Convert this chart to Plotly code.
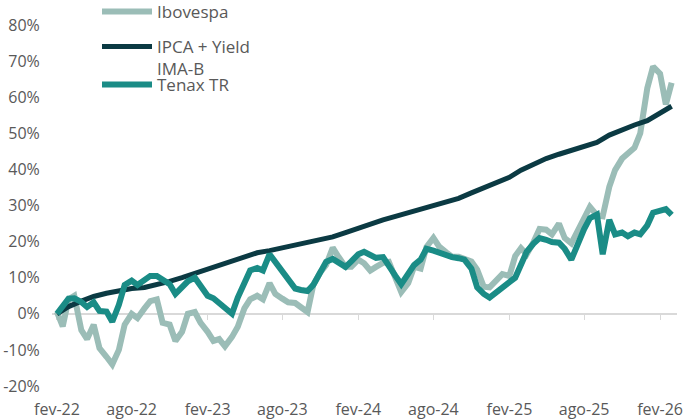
import plotly.graph_objects as go
import pandas as pd

# ---------------- data ----------------
semi_dates = pd.date_range("2022-02-01", periods=99, freq="SMS")
month_dates = pd.date_range("2022-02-01", periods=50, freq="MS")

ibovespa = [0.5, -3.5, 4.0, 5.0, -4.5, -7.0, -3.0, -9.5, -11.9, -14.0,
            -10.0, -3.0, 0.0, -1.2, 1.5, 3.5, 4.0, -2.5, -3.0, -7.5,
            -5.0, 0.0, 0.5, -2.5, -5.0, -7.5, -7.0, -9.0, -6.4, -3.6,
            1.5, 4.0, 5.0, 4.0, 8.5, 5.5, 4.2, 3.2, 3.0, 1.9,
            0.5, 8.0, 11.5, 13.5, 18.3, 15.8, 13.0, 13.0, 15.0, 14.0,
            12.0, 13.0, 14.1, 14.4, 10.0, 6.0, 8.5, 13.0, 12.5, 18.5,
            21.0, 18.6, 17.0, 15.8, 15.8, 15.2, 14.5, 12.2, 7.5, 7.3,
            9.4, 11.0, 10.5, 16.0, 18.2, 16.5, 20.0, 23.5, 23.3, 22.0,
            25.0, 21.0, 19.5, 22.5, 26.0, 29.6, 27.3, 27.0, 35.2, 39.8,
            43.0, 44.5, 46.0, 50.0, 62.5, 68.5, 66.5, 58.0, 64.0]

tenax = [0.0, 2.0, 4.2, 4.3, 3.3, 1.9, 3.2, 0.8, 0.6, -2.2,
         2.5, 8.0, 9.2, 8.0, 9.5, 10.5, 10.5, 9.5, 8.2, 5.5,
         7.5, 9.0, 10.0, 7.8, 5.0, 4.3, 3.0, 1.2, 0.0, 4.5,
         8.5, 12.0, 12.7, 12.0, 16.5, 14.5, 11.5, 9.5, 7.0, 6.6,
         6.3, 8.0, 11.5, 14.4, 15.2, 14.0, 13.0, 14.5, 16.5, 17.2,
         16.2, 15.5, 15.7, 13.0, 10.5, 8.2, 10.8, 13.5, 15.0, 18.0,
         17.5, 16.8, 16.0, 15.7, 15.4, 15.0, 12.5, 7.3, 5.5, 4.5,
         6.0, 7.5, 8.8, 10.0, 13.5, 17.2, 19.5, 21.0, 20.5, 19.9,
         19.7, 18.0, 15.0, 19.0, 23.5, 26.5, 27.5, 16.5, 26.0, 22.0,
         22.5, 21.5, 22.5, 22.0, 24.5, 28.0, 28.5, 29.0, 27.4]

ipca_yield = [0.0, 2.0, 3.5, 4.8, 5.7, 6.5, 7.0, 7.3, 8.0, 9.0,
              10.0, 11.2, 12.5, 13.6, 14.8, 16.0, 16.9, 17.5, 18.2, 18.9,
              19.7, 20.5, 21.3, 22.5, 23.8, 25.0, 26.0, 27.0, 28.0, 29.0,
              30.3, 31.2, 32.0, 33.5, 35.0, 36.3, 37.8, 39.8, 41.5, 43.0,
              44.2, 45.3, 46.3, 47.5, 49.5, 51.0, 52.3, 53.5, 55.5, 57.5]

tick_dates = ["2022-02-01", "2022-08-01", "2023-02-01", "2023-08-01", "2024-02-01",
              "2024-08-01", "2025-02-01", "2025-08-01", "2026-02-01"]
tick_labels = ["fev-22", "ago-22", "fev-23", "ago-23", "fev-24",
               "ago-24", "fev-25", "ago-25", "fev-26"]
y_ticks = [-20, -10, 0, 10, 20, 30, 40, 50, 60, 70, 80]
y_labels = [f"{v}%" for v in y_ticks]

names = ["Ibovespa", "IPCA + Yield<br>IMA-B", "Tenax TR"]
colors = ["#9bbdb7", "#0b3a43", "#1a8c86"]

# ---------------- figure ----------------
W, H = 684, 419
FONT = "Open Sans"
GREY = "#595959"
y_min, y_max = -20, 80

fig = go.Figure()
fig.add_trace(go.Scatter(x=semi_dates, y=ibovespa, mode="lines", name=names[0],
                         line=dict(color=colors[0], width=6), legend="legend"))
fig.add_trace(go.Scatter(x=month_dates, y=ipca_yield, mode="lines", name=names[1],
                         line=dict(color=colors[1], width=5), legend="legend2"))
fig.add_trace(go.Scatter(x=semi_dates, y=tenax, mode="lines", name=names[2],
                         line=dict(color=colors[2], width=6), legend="legend3"))
# helper trace so the zero-line axis is drawn
fig.add_trace(go.Scatter(x=[semi_dates[0]], y=[None], xaxis="x2", mode="lines",
                         showlegend=False, hoverinfo="skip"))

leg_common = dict(xref="container", yref="container", xanchor="left",
                  bgcolor="rgba(0,0,0,0)", font=dict(family=FONT, size=17, color=GREY),
                  itemwidth=50)
fig.update_layout(
    width=W, height=H,
    margin=dict(l=52, r=7, t=25, b=33, autoexpand=False),
    paper_bgcolor="white", plot_bgcolor="white",
    font=dict(family=FONT, size=16, color=GREY),
    xaxis=dict(range=["2022-01-20", "2026-03-14"], showgrid=False, zeroline=False,
               showline=False, tickmode="array", tickvals=tick_dates, ticktext=tick_labels,
               ticks="outside", ticklen=0, ticklabelstandoff=9, tickangle=0,
               tickfont=dict(family=FONT, size=16, color=GREY)),
    xaxis2=dict(matches="x", overlaying="x", anchor="free",
                position=(0 - y_min) / (y_max - y_min),
                showgrid=False, zeroline=False, showticklabels=False,
                showline=True, linecolor="#d9d9d9", linewidth=2,
                ticks="outside", ticklen=5, tickwidth=1, tickcolor="#d9d9d9",
                tickmode="array", tickvals=tick_dates, layer="below traces"),
    yaxis=dict(range=[y_min, y_max], showgrid=False, zeroline=False, showline=False,
               tickmode="array", tickvals=y_ticks, ticktext=y_labels,
               ticks="outside", ticklen=0, ticklabelstandoff=8,
               tickfont=dict(family=FONT, size=16, color=GREY)),
    legend=dict(x=97 / W, y=1 - 12 / H, yanchor="middle", **leg_common),
    legend2=dict(x=97 / W, y=1 - 29 / H, yanchor="top", valign="top", **leg_common),
    legend3=dict(x=97 / W, y=1 - 85 / H, yanchor="middle", **leg_common),
)

fig.write_html("out.html", config={"displayModeBar": False},
               post_script="document.body.style.margin='0px';")
